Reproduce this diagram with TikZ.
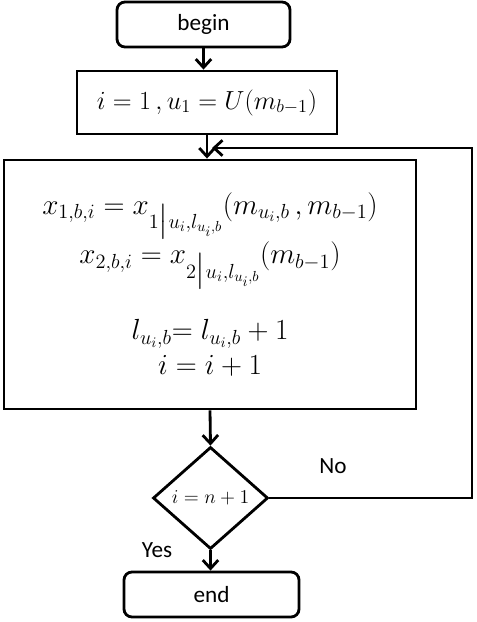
\RequirePackage{fix-cm}
\documentclass[tikz,border=0pt]{standalone}
\usepackage{amsmath}
\usepackage{fontspec}
\setmainfont{Carlito}
\usetikzlibrary{positioning, arrows.meta, shapes.geometric}

\begin{document}
\begin{tikzpicture}[x=0.025cm, y=-0.025cm,
    box/.style={draw, line width=2pt, inner sep=0pt},
    term/.style={box, rounded corners=0.2cm, minimum height=1.125cm, font=\fontsize{16.5}{20}\selectfont},
    flow/.style={line width=2pt, -{Straight Barb[length=6pt, width=11pt]}},
    lbl/.style={font=\fontsize{16.5}{20}\selectfont}]
  \useasboundingbox (0,0) rectangle (477,622);

  % Start and initialisation
  \node[term, minimum width=4.325cm] (begin) at (203.5,24.5) {begin};
  \node[box, minimum width=6.5cm, minimum height=1.575cm, font=\fontsize{18.6}{22}\selectfont] (init) at (207,102.5)
    {$i=1\,,u_1=U(m_{b-1})$};

  % Loop body
  \node[box, minimum width=10.3cm, minimum height=6.225cm, align=center, font=\fontsize{20.7}{26}\selectfont] (body) at (210,284.5)
    {$x_{1,b,i}=x_{1\big|u_i,l_{u_i,b}}(m_{u_i,b}\,,m_{b-1})$\\[1pt]
     $x_{2,b,i}=x_{2\big|u_i,l_{u_i,b}}(m_{b-1})$\\[21pt]
     $l_{u_i,b}{=}\;l_{u_i,b}+1$\\[-1pt]
     $i=i+1$};

  % Test and end
  \node[box, diamond, minimum width=2.875cm, minimum height=2.55cm, font=\fontsize{14}{16}\selectfont] (test) at (210.5,498) {$i=n+1$};
  \node[term, minimum width=4.375cm] (stop) at (211.5,594.5) {end};

  % Labels
  \node[lbl] (no) at (333,466) {No};
  \node[lbl] (yes) at (157,550) {Yes};

  % Connectors
  \draw[flow] (begin.south) -- (begin.south |- init.north);
  \draw[flow] (init.south) -- (init.south |- body.north);
  \draw[flow] (body.south) -- (test.north);
  \draw[flow] (test.south) -- (test.south |- stop.north);

  % Back loop
  \coordinate (righthigh) at (472,148);
  \coordinate (joint) at (212,148);
  \draw[flow] (test.east) -| (righthigh) -- (joint);
\end{tikzpicture}
\end{document}
